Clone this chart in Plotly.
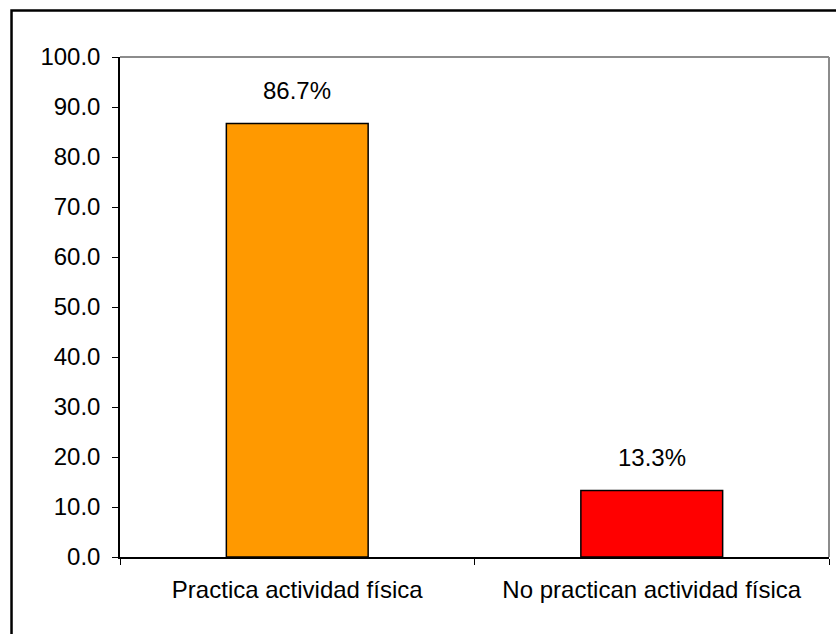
import plotly.graph_objects as go

# Porcentaje de personas según práctica de actividad física
categories = ["Practica actividad física", "No practican actividad física"]
percentages = [86.7, 13.3]
bar_colors = ["#FF9900", "#FF0000"]

FONT = "Liberation Sans, Arial, sans-serif"

fig = go.Figure(
    go.Bar(
        x=categories,
        y=percentages,
        marker=dict(color=bar_colors, line=dict(color="black", width=1.5)),
        width=0.4,
        hoverinfo="skip",
    )
)

# Value labels above each bar
for cat, val in zip(categories, percentages):
    fig.add_annotation(
        x=cat, y=val, text=f"{val:.1f}%", showarrow=False,
        yanchor="bottom", yshift=18,
        font=dict(family=FONT, size=24, color="black"),
    )

# Outer chart frame
fig.add_shape(
    type="rect", xref="paper", yref="paper",
    x0=-0.153, x1=1.05, y0=-0.3, y1=1.093,
    line=dict(color="black", width=2.5), layer="below",
)
# Grey top and right edges of the plot area
fig.add_shape(type="line", xref="paper", yref="paper", x0=0, x1=1, y0=1, y1=1,
              line=dict(color="#8c8c8c", width=2), layer="below")
fig.add_shape(type="line", xref="paper", yref="paper", x0=1, x1=1, y0=0, y1=1,
              line=dict(color="#8c8c8c", width=2), layer="below")

fig.update_layout(
    width=836, height=634,
    margin=dict(l=120, r=7, t=57, b=77),
    paper_bgcolor="white", plot_bgcolor="white",
    showlegend=False,
    font=dict(family=FONT, size=24, color="black"),
    bargap=0.6,
)
fig.update_yaxes(
    range=[0, 100], dtick=10, tickformat=".1f",
    showgrid=False, zeroline=False,
    showline=True, linecolor="black", linewidth=1.5,
    ticks="outside", ticklen=6, tickcolor="black", tickwidth=1,
    ticklabelstandoff=7,
    tickfont=dict(family=FONT, size=24, color="black"),
)
fig.update_xaxes(
    showgrid=False, zeroline=False,
    showline=True, linecolor="black", linewidth=1.5,
    ticks="outside", tickson="boundaries", ticklen=6, tickcolor="black", tickwidth=1,
    ticklabelstandoff=10,
    tickfont=dict(family=FONT, size=24, color="black"),
)

fig.write_html("out.html")
